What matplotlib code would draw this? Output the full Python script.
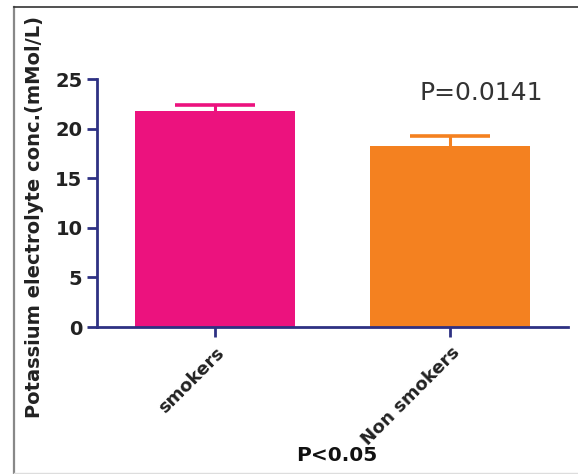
import matplotlib.pyplot as plt
from matplotlib.lines import Line2D

# dados do gráfico
grupos = ["smokers", "Non smokers"]
medias = [21.8, 18.25]
erros = [0.55, 1.05]
cores = ["#EC127E", "#F48120"]
y_ticks = [0, 5, 10, 15, 20, 25]

eixo_cor = "#2E3183"
texto_cor = "#222222"

plt.rcParams["font.family"] = ["DejaVu Sans"]

fig = plt.figure(figsize=(5.78, 4.74), dpi=100)
ax = fig.add_axes([0.168, 0.310, 0.815, 0.523])

x = range(len(grupos))
ax.bar(x, medias, width=0.68, color=cores, zorder=2)
for i in x:
    _, caps, _ = ax.errorbar(i, medias[i], yerr=[[0], [erros[i]]], fmt="none",
                             ecolor=cores[i], elinewidth=2.2, capsize=29,
                             capthick=2.6, zorder=3)
    caps[0].set_visible(False)  # só a barra de erro superior

ax.set_xlim(-0.5, 1.5)
ax.set_ylim(0, 25)
ax.set_yticks(y_ticks)
ax.set_xticks(list(x))
ax.set_xticklabels(grupos, rotation=45, ha="right", rotation_mode="anchor",
                   fontsize=13, fontweight="bold", color=texto_cor)
ax.set_yticklabels([str(v) for v in y_ticks], fontsize=14, fontweight="bold", color=texto_cor)

for lado in ["top", "right"]:
    ax.spines[lado].set_visible(False)
for lado in ["left", "bottom"]:
    ax.spines[lado].set_color(eixo_cor)
    ax.spines[lado].set_linewidth(2)
ax.tick_params(axis="both", colors=eixo_cor, width=2, length=7, labelcolor=texto_cor)
ax.tick_params(axis="x", pad=5)

ax.text(1.13, 23.6, "P=0.0141", ha="center", va="center", fontsize=18, color="#333333")

fig.text(0.060, 0.542, "Potassium electrolyte conc.(mMol/L)", rotation=90,
         ha="center", va="center", fontsize=14, fontweight="bold", color=texto_cor)
fig.text(0.583, 0.038, "P<0.05", ha="center", va="center",
         fontsize=14.5, fontweight="bold", color="#111111")

# moldura da figura
fig.add_artist(Line2D([14/578, 14/578], [0, 1 - 7/474], transform=fig.transFigure,
                      color="#888888", lw=1.6))
fig.add_artist(Line2D([14/578, 1], [1 - 7/474, 1 - 7/474], transform=fig.transFigure,
                      color="#333333", lw=1.2))
fig.add_artist(Line2D([14/578, 1], [1.5/474, 1.5/474], transform=fig.transFigure,
                      color="#dddddd", lw=1))

fig.savefig("out.png", dpi=100)
